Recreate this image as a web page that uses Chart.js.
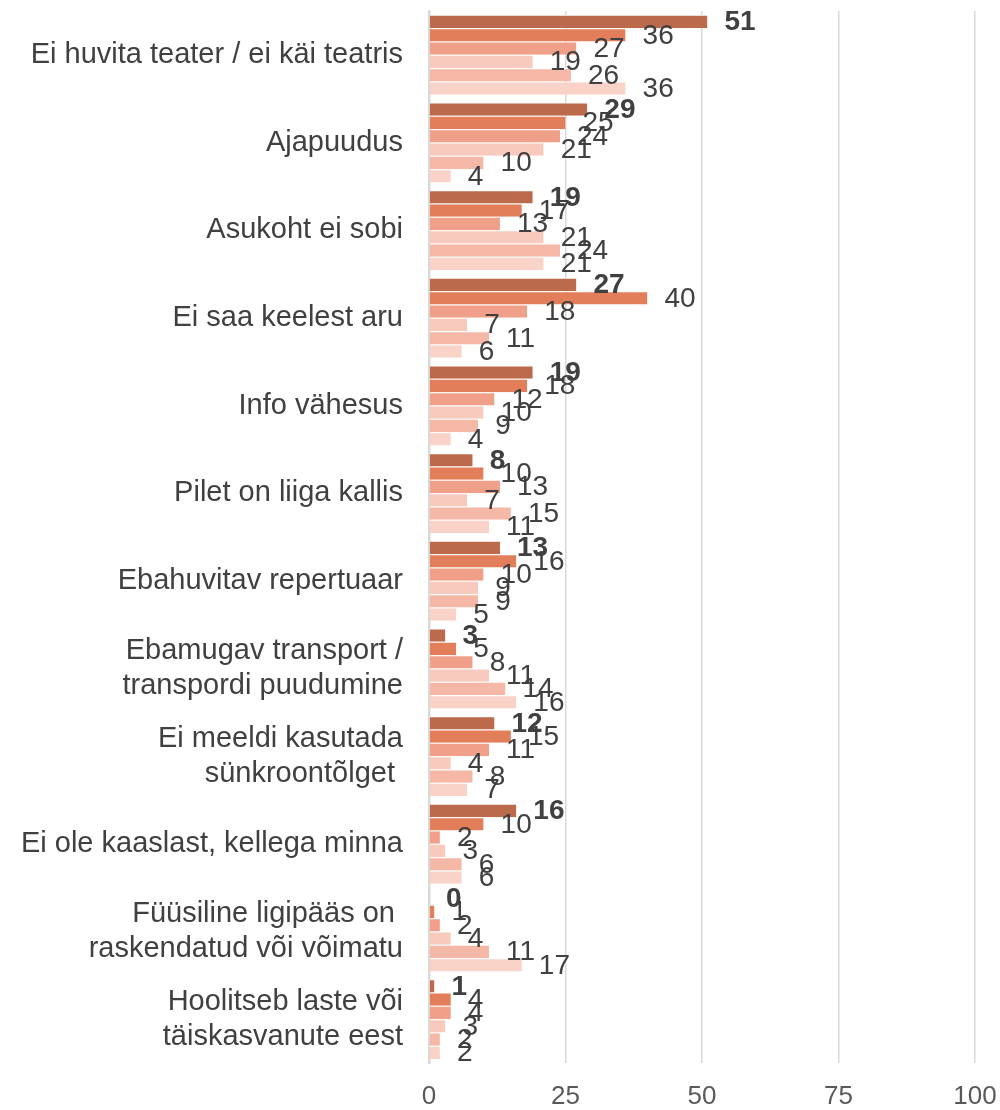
<!DOCTYPE html>
<html>
<head>
<meta charset="utf-8">
<script src="https://cdn.jsdelivr.net/npm/chart.js@4"></script>
<style>
  body { margin: 0; background: #fff; }
  #wrap { width: 1000px; height: 1110px; }
</style>
</head>
<body>
<div id="wrap"><canvas id="chart" width="1000" height="1110"></canvas></div>
<script>
const categories = [
    'Ei huvita teater / ei käi teatris',
    'Ajapuudus',
    'Asukoht ei sobi',
    'Ei saa keelest aru',
    'Info vähesus',
    'Pilet on liiga kallis',
    'Ebahuvitav repertuaar',
    ['Ebamugav transport /', 'transpordi puudumine'],
    ['Ei meeldi kasutada', 'sünkroontõlget '],
    'Ei ole kaaslast, kellega minna',
    ['Füüsiline ligipääs on ', 'raskendatud või võimatu'],
    ['Hoolitseb laste või', 'täiskasvanute eest']
];
const series1 = [51, 29, 19, 27, 19, 8, 13, 3, 12, 16, 0, 1];
const series2 = [36, 25, 17, 40, 18, 10, 16, 5, 15, 10, 1, 4];
const series3 = [27, 24, 13, 18, 12, 13, 10, 8, 11, 2, 2, 4];
const series4 = [19, 21, 21, 7, 10, 7, 9, 11, 4, 3, 4, 3];
const series5 = [26, 10, 24, 11, 9, 15, 9, 14, 8, 6, 11, 2];
const series6 = [36, 4, 21, 6, 4, 11, 5, 16, 7, 6, 17, 2];
const xTicks = [0, 25, 50, 75, 100];

const colors = ['#BB6B4B', '#E27F5A', '#F0A088', '#F8C9BD', '#F5B8A6', '#F9D2C8'];
const allSeries = [series1, series2, series3, series4, series5, series6];

const FONT = '"Liberation Sans", Arial, sans-serif';

const valueLabels = {
    id: 'valueLabels',
    afterDatasetsDraw(chart) {
        const ctx = chart.ctx;
        ctx.save();
        ctx.textBaseline = 'middle';
        ctx.textAlign = 'left';
        ctx.fillStyle = '#404040';
        chart.data.datasets.forEach((ds, i) => {
            const meta = chart.getDatasetMeta(i);
            ctx.font = (i === 0 ? 'bold ' : '') + '28px ' + FONT;
            meta.data.forEach((bar, j) => {
                ctx.fillText(String(ds.data[j]), bar.x + 17, bar.y + 1);
            });
        });
        ctx.restore();
    }
};

new Chart(document.getElementById('chart'), {
    type: 'bar',
    data: {
        labels: categories,
        datasets: allSeries.map((d, i) => ({
            data: d,
            backgroundColor: colors[i],
            borderColor: '#ffffff',
            borderWidth: { top: 1, bottom: 0, left: 0, right: 0 },
            borderSkipped: false,
            categoryPercentage: 0.912,
            barPercentage: 1.0
        }))
    },
    options: {
        indexAxis: 'y',
        responsive: false,
        animation: false,
        layout: { padding: { top: 11, right: 25, bottom: 0, left: 0 } },
        plugins: {
            legend: { display: false },
            tooltip: { enabled: false }
        },
        scales: {
            x: {
                min: 0,
                max: 100,
                afterBuildTicks: (scale) => { scale.ticks = xTicks.map(v => ({ value: v })); },
                grid: { color: '#D9D9D9', lineWidth: 1.5, drawTicks: false },
                border: { display: false },
                ticks: {
                    color: '#595959',
                    padding: 18,
                    font: { family: FONT, size: 26 }
                },
                afterFit: (scale) => {
                    scale.height = 47;
                    scale.paddingLeft = 0;
                    scale.paddingRight = 0;
                }
            },
            y: {
                grid: { display: false, drawTicks: false },
                border: { display: true, color: '#D9D9D9', width: 2.5 },
                ticks: {
                    color: '#404040',
                    padding: 26,
                    autoSkip: false,
                    font: { family: FONT, size: 29, lineHeight: 1.2 }
                },
                afterFit: (scale) => {
                    scale.width = 429;
                    scale.paddingTop = 0;
                    scale.paddingBottom = 0;
                }
            }
        }
    },
    plugins: [valueLabels]
});
</script>
</body>
</html>
